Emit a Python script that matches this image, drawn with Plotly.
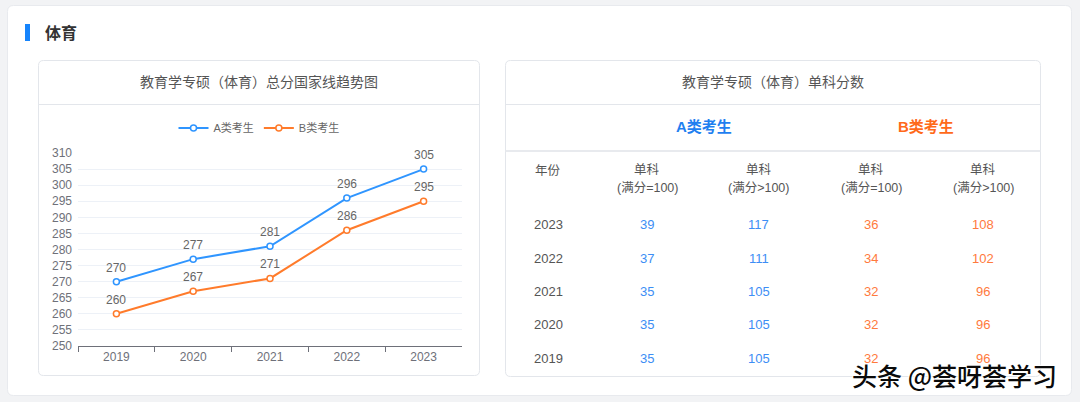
import plotly.graph_objects as go

# ---------------- data ----------------
chart_years = ["2019", "2020", "2021", "2022", "2023"]
a_total = [270, 277, 281, 296, 305]
b_total = [260, 267, 271, 286, 295]
series_names = ["A类考生", "B类考生"]

table_years = ["2023", "2022", "2021", "2020", "2019"]
a_eq100 = [39, 37, 35, 35, 35]
a_gt100 = [117, 111, 105, 105, 105]
b_eq100 = [36, 34, 32, 32, 32]
b_gt100 = [108, 102, 96, 96, 96]

col_heads = ["年份", "单科", "单科", "单科", "单科"]
col_subheads = ["", "(满分=100)", "(满分>100)", "(满分=100)", "(满分>100)"]

section_title = "体育"
chart_title = "教育学专硕（体育）总分国家线趋势图"
table_title = "教育学专硕（体育）单科分数"
watermark = "头条 @荟呀荟学习"

# ---------------- style ----------------
W, H = 1080, 402
FONT = "Liberation Sans, Noto Sans CJK SC, sans-serif"
A_COLOR = "#2f95ff"
B_COLOR = "#ff7b2b"
A_TXT = "#3d8ef5"
B_TXT = "#ff7a3d"
A_HEAD = "#1f7ff0"
B_HEAD = "#ff6a1a"
BORDER = "#e3e6eb"
AXIS = "#6e7079"


def X(px):
    return px / W


def Y(py):
    return 1 - py / H


def rrect(x0, y0, x1, y1, r):
    pts = [
        f"M{X(x0 + r)},{Y(y0)}",
        f"L{X(x1 - r)},{Y(y0)}",
        f"Q{X(x1)},{Y(y0)} {X(x1)},{Y(y0 + r)}",
        f"L{X(x1)},{Y(y1 - r)}",
        f"Q{X(x1)},{Y(y1)} {X(x1 - r)},{Y(y1)}",
        f"L{X(x0 + r)},{Y(y1)}",
        f"Q{X(x0)},{Y(y1)} {X(x0)},{Y(y1 - r)}",
        f"L{X(x0)},{Y(y0 + r)}",
        f"Q{X(x0)},{Y(y0)} {X(x0 + r)},{Y(y0)}",
        "Z",
    ]
    return " ".join(pts)


shapes = []
shapes.append(dict(type="path", path=rrect(7.5, 5.5, 1071.5, 395.5, 6), xref="paper", yref="paper",
                   fillcolor="white", line=dict(color="#e8eaee", width=1), layer="below"))
shapes.append(dict(type="rect", x0=X(25), x1=X(30), y0=Y(24), y1=Y(41), xref="paper", yref="paper",
                   fillcolor="#1684fc", line=dict(width=0), layer="below"))
shapes.append(dict(type="path", path=rrect(38.5, 60.5, 479.5, 375.5, 5), xref="paper", yref="paper",
                   fillcolor="white", line=dict(color=BORDER, width=1), layer="below"))
shapes.append(dict(type="line", x0=X(38.5), x1=X(479.5), y0=Y(104.5), y1=Y(104.5), xref="paper", yref="paper",
                   line=dict(color=BORDER, width=1), layer="below"))
shapes.append(dict(type="path", path=rrect(505.5, 60.5, 1040.5, 376.5, 5), xref="paper", yref="paper",
                   fillcolor="white", line=dict(color=BORDER, width=1), layer="below"))
shapes.append(dict(type="line", x0=X(505.5), x1=X(1040.5), y0=Y(104.5), y1=Y(104.5), xref="paper", yref="paper",
                   line=dict(color=BORDER, width=1), layer="below"))
shapes.append(dict(type="line", x0=X(505.5), x1=X(1040.5), y0=Y(151), y1=Y(151), xref="paper", yref="paper",
                   line=dict(color="#e8eaee", width=2), layer="below"))

annotations = []


def txt(x, y, text, size, color, xanchor="center", bold=False):
    annotations.append(dict(x=X(x), y=Y(y), xref="paper", yref="paper", text=f"<b>{text}</b>" if bold else text,
                            showarrow=False, xanchor=xanchor, yanchor="middle",
                            font=dict(family=FONT, size=size, color=color)))


txt(43, 33, section_title, 16, "#333333", xanchor="left", bold=True)
txt(258.5, 82, chart_title, 14, "#555555")
txt(772.5, 82, table_title, 14, "#555555")
txt(704, 126, series_names[0], 15, A_HEAD, bold=True)
txt(926, 126, series_names[1], 15, B_HEAD, bold=True)

col_x = [548, 647, 759, 871, 983]
for i, cx in enumerate(col_x):
    if col_subheads[i]:
        txt(cx, 170, col_heads[i], 12.5, "#555555")
        txt(cx, 188, col_subheads[i], 12.5, "#555555")
    else:
        txt(cx, 171, col_heads[i], 12.5, "#555555")

row_y0, row_dy = 225, 33.25
cols = [(table_years, "#555555"), (a_eq100, A_TXT), (a_gt100, A_TXT), (b_eq100, B_TXT), (b_gt100, B_TXT)]
for ci, (vals, color) in enumerate(cols):
    for ri, v in enumerate(vals):
        txt(col_x[ci], row_y0 + ri * row_dy, str(v), 13, color)

# data labels on the line chart, positioned through the data axes (category index)
for vals in (a_total, b_total):
    for idx, yv in enumerate(vals):
        annotations.append(dict(x=idx, y=yv, xref="x", yref="y", text=str(yv), showarrow=False,
                                yshift=14, xanchor="center", yanchor="middle",
                                font=dict(family=FONT, size=12, color="#666666")))

annotations.append(dict(x=X(954), y=Y(375), xref="paper", yref="paper", text=watermark, showarrow=False,
                        xanchor="center", yanchor="middle",
                        font=dict(family="Noto Sans CJK SC, sans-serif", size=25, color="#0a0a0a", weight=500,
                                  shadow="1px 1px 1px #ffffff, -1px -1px 1px #ffffff")))

fig = go.Figure()
for name, vals, color in ((series_names[0], a_total, A_COLOR), (series_names[1], b_total, B_COLOR)):
    fig.add_trace(go.Scatter(
        x=chart_years, y=vals, name=name, mode="lines+markers",
        line=dict(color=color, width=2),
        marker=dict(symbol="circle", size=6, color="white", line=dict(color=color, width=1.5)),
        cliponaxis=False,
    ))

fig.update_layout(
    width=W, height=H,
    margin=dict(l=0, r=0, t=0, b=0, pad=0, autoexpand=False),
    paper_bgcolor="#f2f3f5",
    plot_bgcolor="rgba(0,0,0,0)",
    font=dict(family=FONT, color="#666666"),
    shapes=shapes,
    annotations=annotations,
    showlegend=True,
    legend=dict(orientation="h", x=X(259), xanchor="center", y=Y(128), yanchor="middle",
                font=dict(family=FONT, size=11, color="#666666"), bgcolor="rgba(0,0,0,0)",
                itemwidth=30, tracegroupgap=0),
    xaxis=dict(domain=[X(78), X(462)], type="category", range=[-0.5, 4.5], tickson="boundaries",
               ticks="outside", ticklen=5, tickcolor=AXIS, showline=True, linecolor=AXIS, linewidth=1,
               showgrid=False, zeroline=False, fixedrange=True, automargin=False,
               tickfont=dict(family=FONT, size=12, color=AXIS)),
    yaxis=dict(domain=[Y(346), Y(153)], range=[250, 310], tick0=250, dtick=5,
               showgrid=True, gridcolor="#edf1f7", gridwidth=1, showline=False, zeroline=False,
               ticks="", ticklabelstandoff=5, fixedrange=True, automargin=False,
               tickfont=dict(family=FONT, size=12, color=AXIS)),
)

fig.write_html("out.html")
